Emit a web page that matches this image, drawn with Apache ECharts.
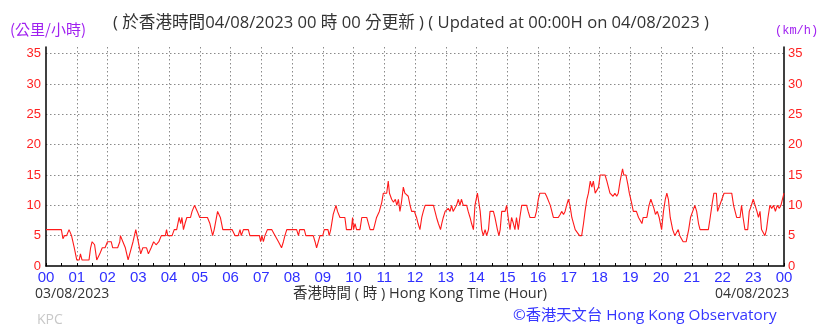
<!DOCTYPE html>
<html>
<head>
<meta charset="utf-8">
<script src="https://cdn.jsdelivr.net/npm/echarts@6/dist/echarts.min.js"></script>
<style>
html,body{margin:0;padding:0;background:#fff;}
#chart{width:836px;height:331px;}
</style>
</head>
<body>
<div id="chart"></div>
<script>
// Time of reading (hours after 00:00 on 03/08/2023)
const hours = [
0.00,0.50,0.55,0.60,0.67,0.75,0.83,0.92,1.00,1.08,1.12,1.17,1.40,1.45,1.50,1.58,1.65,1.75,1.83,1.92,
2.00,2.12,2.17,2.33,2.40,2.42,2.50,2.58,2.67,2.75,2.83,2.92,3.00,3.08,3.15,3.27,3.33,3.42,3.50,3.58,
3.67,3.75,3.88,3.92,3.96,4.10,4.17,4.25,4.33,4.38,4.42,4.47,4.52,4.58,4.70,4.75,4.83,4.88,4.92,5.00,
5.25,5.33,5.42,5.47,5.53,5.58,5.67,5.75,6.05,6.15,6.25,6.31,6.35,6.42,6.58,6.63,6.94,6.98,7.02,7.07,
7.12,7.20,7.34,7.45,7.56,7.66,7.72,7.77,7.83,8.15,8.21,8.25,8.40,8.45,8.69,8.75,8.80,8.86,8.91,9.00,
9.05,9.17,9.21,9.26,9.34,9.43,9.48,9.56,9.72,9.77,9.93,9.97,10.00,10.05,10.10,10.21,10.27,10.43,10.48,10.54,
10.65,10.70,10.75,10.84,10.92,10.97,11.08,11.13,11.17,11.24,11.30,11.36,11.41,11.46,11.51,11.56,11.62,11.67,11.73,11.78,
11.84,11.89,11.98,12.05,12.10,12.16,12.22,12.27,12.33,12.60,12.65,12.70,12.76,12.83,12.87,12.92,12.98,13.03,13.08,13.14,
13.19,13.24,13.30,13.35,13.41,13.46,13.51,13.57,13.68,13.73,13.79,13.84,13.90,13.95,14.03,14.06,14.12,14.17,14.22,14.28,
14.33,14.39,14.44,14.55,14.60,14.68,14.73,14.77,14.82,14.93,14.98,15.03,15.09,15.14,15.20,15.25,15.30,15.36,15.41,15.47,
15.63,15.68,15.74,15.90,15.95,16.01,16.06,16.23,16.28,16.40,16.45,16.50,16.66,16.72,16.77,16.83,16.88,16.93,16.99,17.04,
17.10,17.21,17.27,17.35,17.42,17.48,17.53,17.59,17.64,17.70,17.75,17.80,17.86,17.91,17.97,18.02,18.18,18.24,18.29,18.34,
18.40,18.44,18.50,18.56,18.61,18.67,18.75,18.79,18.86,18.92,18.97,19.04,19.10,19.20,19.27,19.33,19.38,19.42,19.54,19.61,
19.67,19.72,19.77,19.82,19.88,19.94,19.98,20.02,20.08,20.14,20.19,20.24,20.30,20.38,20.45,20.51,20.56,20.61,20.67,20.72,
20.82,20.90,20.96,21.03,21.10,21.16,21.22,21.27,21.54,21.60,21.67,21.72,21.80,21.84,21.90,21.98,22.05,22.30,22.36,22.46,
22.57,22.62,22.67,22.73,22.82,22.87,22.94,23.00,23.06,23.12,23.17,23.22,23.27,23.33,23.38,23.43,23.48,23.54,23.60,23.66,
23.72,23.78,23.85,23.90,23.96,24.00
];
// Wind speed (km/h)
const speeds = [
6,6,4.5,5,5,6,5,3,1,1,2,1,1,3,4,3.5,1,2,3,3,
4,4,3,3,4,5,4,3,1,2.5,4,6,4,2,3,3,2,3,4,3.5,
4,5,5,6,5,5,6,6,8,7,8,6,7,8,8,9,10,10,9,8,
8,7,5,6,6,9,8,6,6,5,5,6,5,6,6,5,5,4,5,4,
5,6,6,5,4,3,4,5,6,6,5,6,6,5,5,4,3,3,5,5,
6,6,5,6,8.5,10,9,8,8,6,6,8,6,7,6,6,8,8,8,6,
6,7,8,9,10.5,12,12,14,12,11,10.5,11,10,11,9,10.5,13,12,12,11.5,
10,9,9,8,7,6,8,9,10,10,9,8,7,6,7,8,9,9,9.5,9,
10,9,9,10,11,10,11,10,10,9,8,7,6,10,12,11,9,6,5,6,
5,6,9,9,8,6,5,6,9,9,10,8,6,8,7,6,8,6,8,10,
10,9,8,8,9,11,12,12,11.5,10,9,8,8,8.5,9,8.5,9,10,11,10,
8,6,6,5,5,7,9,11,12,14,13,14,12,12,13,15,15,14,13,12,
12,11.5,12,11.5,12,14,16,15,15,13.5,12,10.5,9,9,8,8,7,8,8,10,
11,11,9.5,8.5,9,8,7,6,9,11,12,11,8,6,5,5,6,5,5,4,
4,6,8,9,10,9,7,6,6,8,10.5,12,12,9,9,11,12,12,10,8,
8,10,8,6,6,9,10,11,10,9,8,9,6,6,5,6,8,10,9.5,10,
9,10,9.5,10,10,12
];
const yTicks = [0,5,10,15,20,25,30,35];
const hourLabels = ['00','01','02','03','04','05','06','07','08','09','10','11','12','13','14','15','16','17','18','19','20','21','22','23','00'];

const seriesData = hours.map((h, i) => [h, speeds[i]]);
const chart = echarts.init(document.getElementById('chart'), null, {renderer: 'canvas'});

const gridDot = {color: '#8a8a8a', type: [1.5, 2.5], width: 1};
const yLabelFmt = v => (yTicks.indexOf(v) >= 0 ? String(v) : '');

chart.setOption({
  animation: false,
  backgroundColor: '#ffffff',
  grid: {left: 46, right: 52, top: 47, bottom: 65, containLabel: false},
  xAxis: {
    type: 'value', min: 0, max: 24, interval: 1,
    axisLine: {show: true, lineStyle: {color: '#000', width: 1.5}},
    axisTick: {show: true, inside: true, length: 3, lineStyle: {color: '#000'}},
    minorTick: {show: true, splitNumber: 2, length: 3, lineStyle: {color: '#000'}},
    axisLabel: {
      color: '#3030ff', fontSize: 15, fontFamily: 'Liberation Sans, Arial, sans-serif', margin: 4,
      formatter: v => hourLabels[Math.round(v)]
    },
    splitLine: {show: true, showMinLine: false, showMaxLine: false, lineStyle: gridDot}
  },
  yAxis: [{
    type: 'value', min: 0, max: 36.1, interval: 5, position: 'left',
    axisLine: {show: true, lineStyle: {color: '#000', width: 1.5}},
    axisTick: {show: false},
    axisLabel: {color: '#ff2020', fontSize: 13, fontFamily: 'Liberation Sans, Arial, sans-serif', margin: 5,
      showMaxLabel: false, formatter: yLabelFmt},
    splitLine: {show: true, showMinLine: false, showMaxLine: false, lineStyle: gridDot}
  }, {
    type: 'value', min: 0, max: 36.1, interval: 5, position: 'right',
    axisLine: {show: true, lineStyle: {color: '#000', width: 1.5}},
    axisTick: {show: false},
    axisLabel: {color: '#ff2020', fontSize: 13, fontFamily: 'Liberation Sans, Arial, sans-serif', margin: 4,
      showMaxLabel: false, formatter: yLabelFmt},
    splitLine: {show: false}
  }],
  series: [{
    type: 'line', data: seriesData, yAxisIndex: 0,
    showSymbol: false, symbol: 'none',
    lineStyle: {color: '#ff1a1a', width: 1.1},
    silent: true
  }],
  graphic: [
    {type: 'text', left: 10, top: 22, style: {text: '(公里/小時)', fill: '#a020f0', font: '15px "Noto Sans CJK TC", sans-serif'}},
    {type: 'text', left: 113, top: 15, style: {text: '( 於香港時間04/08/2023 00 時 00 分更新 ) ( Updated at 00:00H on 04/08/2023 )', fill: '#333333', font: '16.6px "Open Sans", "Noto Sans CJK TC", sans-serif'}},
    {type: 'text', left: 775, top: 25, style: {text: '(km/h)', fill: '#a020f0', font: '12px "Liberation Mono", monospace'}},
    {type: 'text', left: 35, top: 287, style: {text: '03/08/2023', fill: '#333333', font: '14px "Open Sans", sans-serif'}},
    {type: 'text', left: 293, top: 287, style: {text: '香港時間 ( 時 ) Hong Kong Time (Hour)', fill: '#333333', font: '14.5px "Open Sans", "Noto Sans CJK TC", sans-serif'}},
    {type: 'text', left: 715, top: 287, style: {text: '04/08/2023', fill: '#333333', font: '14px "Open Sans", sans-serif'}},
    {type: 'text', left: 37, top: 313, style: {text: 'KPC', fill: '#c8c8c8', font: '14px "Open Sans", sans-serif'}},
    {type: 'text', left: 513, top: 308, style: {text: '©香港天文台 Hong Kong Observatory', fill: '#3535ff', font: '15.3px "Open Sans", "Noto Sans CJK TC", sans-serif'}}
  ]
});
</script>
</body>
</html>
